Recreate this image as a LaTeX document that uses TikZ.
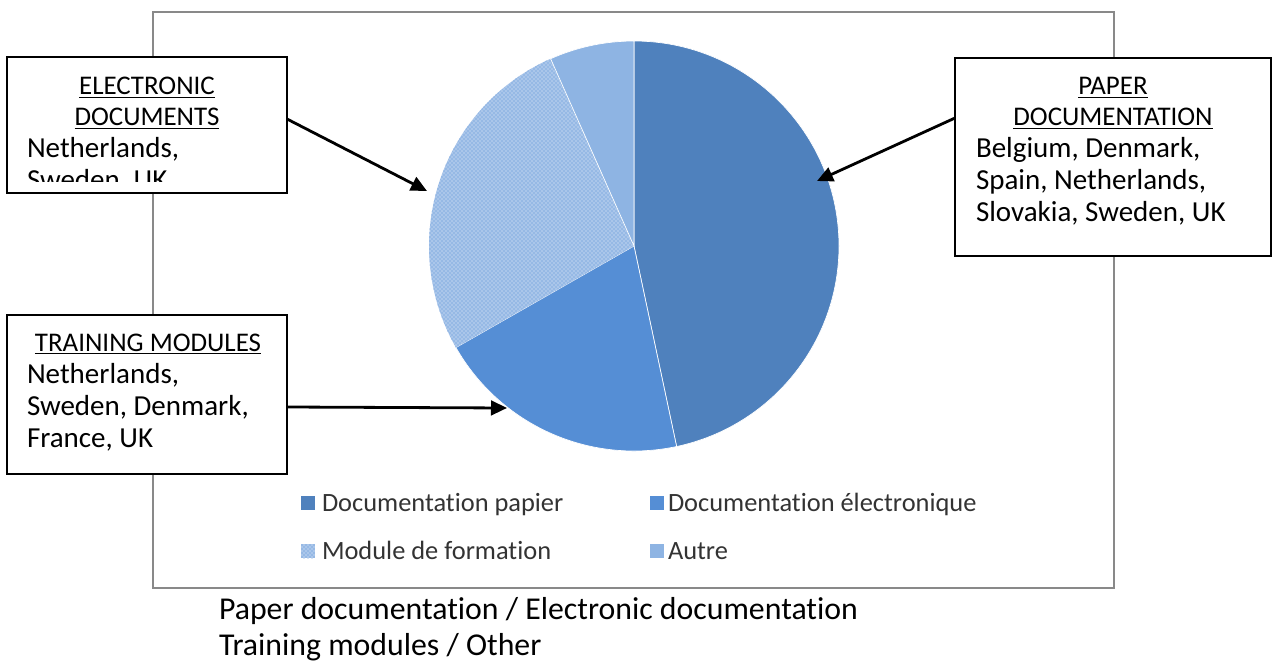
\documentclass[tikz,border=0pt]{standalone}
\usepackage{fontspec}
\setmainfont{Carlito}[Ligatures={NoCommon}]
\usetikzlibrary{arrows.meta,patterns,calc}
\definecolor{cPap}{HTML}{4F81BD}
\definecolor{cEle}{HTML}{558ED5}
\definecolor{cAut}{HTML}{8EB4E3}
\definecolor{frameGray}{HTML}{898989}
\definecolor{legGray}{HTML}{333333}
\begin{document}
\begin{tikzpicture}[x=0.75pt,y=-0.75pt,
  boxtxt/.style={inner sep=0pt, outer sep=0pt, font=\fontsize{21.75}{24}\selectfont},
  boxtitle/.style={inner sep=0pt, outer sep=0pt, font=\fontsize{20.2}{24}\selectfont},
  legtxt/.style={inner sep=0pt, outer sep=0pt, text=legGray, font=\fontsize{19.8}{22}\selectfont},
  captxt/.style={inner sep=0pt, outer sep=0pt, font=\fontsize{23.85}{26}\selectfont},
  callout/.style={draw=black, line width=1.1pt, fill=white, inner sep=0pt, outer sep=0pt},
  slice/.style={draw=white, line width=0.5pt},
  pointer/.style={line width=2.1pt, -{Triangle[length=12pt,width=11pt]}}
]
\useasboundingbox (0,0) rectangle (1272,663);
\fill[white] (0,0) rectangle (1272,663);

% chart frame
\draw[frameGray, line width=1.5pt] (153,12) rectangle (1114,588);

% pie
\coordinate (C) at (634,246);
\fill[cPap, slice] (C) -- ++(-90:205) arc[start angle=-90, end angle=78, radius=205] -- cycle;
\fill[cEle, slice] (C) -- ++(78:205) arc[start angle=78, end angle=150.3, radius=205] -- cycle;
\fill[cEle!50] (C) -- ++(150.3:205) arc[start angle=150.3, end angle=246, radius=205] -- cycle;
\fill[pattern=crosshatch dots, pattern color=cEle] (C) -- ++(150.3:205) arc[start angle=150.3, end angle=246, radius=205] -- cycle;
\fill[cAut, slice] (C) -- ++(246:205) arc[start angle=246, end angle=270, radius=205] -- cycle;

\coordinate (eTip) at (427,191);
\coordinate (pTip) at (817,181);
\coordinate (tTip) at (507,408);

% legend
\fill[cPap] (301,496) rectangle (315,510);
\node[legtxt, anchor=base west] (lg1) at (322,511) {Documentation papier};
\fill[cEle] (650,496) rectangle (664,510);
\node[legtxt, anchor=base west] (lg2) at (668,511) {Documentation électronique};
\fill[cEle!50] (301,544) rectangle (315,558);
\fill[pattern=crosshatch dots, pattern color=cEle] (301,544) rectangle (315,558);
\node[legtxt, anchor=base west] (lg3) at (322,559) {Module de formation};
\fill[cAut] (650,544) rectangle (664,558);
\node[legtxt, anchor=base west] (lg4) at (668,559) {Autre};

% callout boxes
\node[callout, minimum width=210pt, minimum height=102pt] (eBox) at (147,125) {};
\node[callout, minimum width=237pt, minimum height=148.5pt] (pBox) at (1113,157) {};
\node[callout, minimum width=210pt, minimum height=119.25pt] (tBox) at (147,394.5) {};

% electronic box text (clipped)
\begin{scope}
\clip (9,59) rectangle (285,182);
\node[boxtitle, anchor=base] (eT1) at (147,95) {\underline{ELECTRONIC}};
\node[boxtitle, anchor=base] (eT2) at (147,126) {\underline{DOCUMENTS}};
\node[boxtxt, anchor=base west] (eL1) at (27,158) {Netherlands,};
\node[boxtxt, anchor=base west] (eL2) at (27,190) {Sweden, UK};
\end{scope}

% paper box text
\node[boxtitle, anchor=base] (pT1) at (1113,95) {\underline{PAPER}};
\node[boxtitle, anchor=base] (pT2) at (1113,126) {\underline{DOCUMENTATION}};
\node[boxtxt, anchor=base west] (pL1) at (976,158) {Belgium, Denmark,};
\node[boxtxt, anchor=base west] (pL2) at (976,190) {Spain, Netherlands,};
\node[boxtxt, anchor=base west] (pL3) at (976,222) {Slovakia, Sweden, UK};

% training box text
\node[boxtitle, anchor=base] (tT1) at (148,351) {\underline{TRAINING MODULES}};
\node[boxtxt, anchor=base west] (tL1) at (27,383) {Netherlands,};
\node[boxtxt, anchor=base west] (tL2) at (27,415) {Sweden, Denmark,};
\node[boxtxt, anchor=base west] (tL3) at (27,447) {France, UK};

% arrows
\draw[pointer] ($(eBox.east)+(0,-6)$) -- (eTip);
\draw[pointer] ($(pBox.west)+(0,-39)$) -- (pTip);
\draw[pointer] ($(tBox.east)+(0,12.5)$) -- (tTip);

% caption
\node[captxt, anchor=base west] (cap1) at (219,619) {Paper documentation / Electronic documentation};
\node[captxt, anchor=base west] (cap2) at (219,655) {Training modules / Other};
\end{tikzpicture}
\end{document}
